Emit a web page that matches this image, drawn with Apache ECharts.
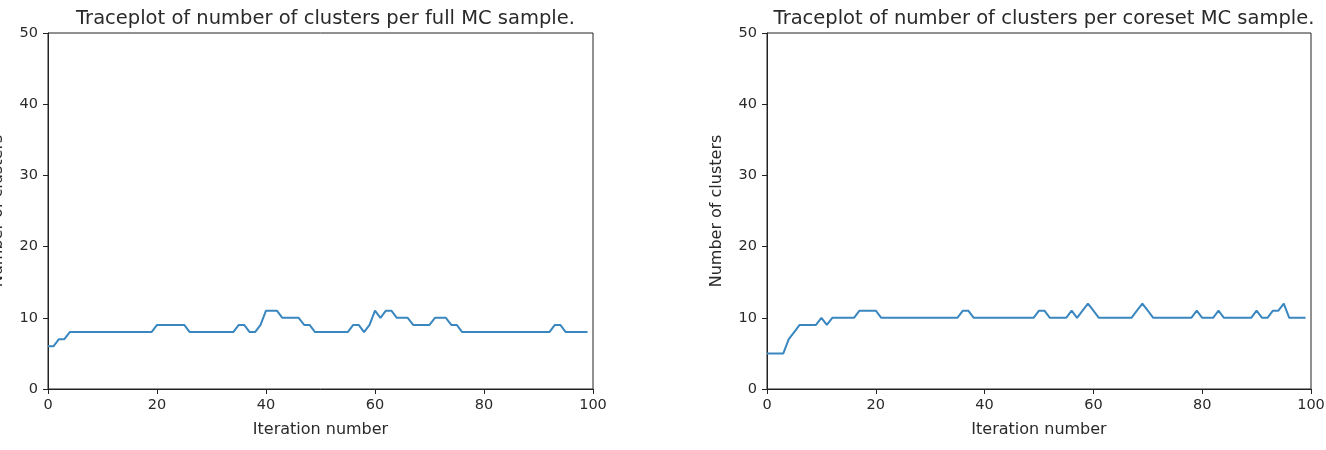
<!DOCTYPE html>
<html>
<head>
<meta charset="utf-8">
<script src="https://cdn.jsdelivr.net/npm/echarts@6/dist/echarts.min.js"></script>
<style>
html,body{margin:0;padding:0;background:#fff;}
#c{width:1326px;height:450px;}
</style>
</head>
<body>
<div id="c"></div>
<script>
const titles = ["Traceplot of number of clusters per full MC sample.", "Traceplot of number of clusters per coreset MC sample."];
const xName = "Iteration number";
const yName = "Number of clusters";
const xTicks = [0, 20, 40, 60, 80, 100];
const yTicks = [0, 10, 20, 30, 40, 50];

const fullClusters = [
  6,6,7,7,8,8,8,8,8,8, 8,8,8,8,8,8,8,8,8,8,
  9,9,9,9,9,9,8,8,8,8, 8,8,8,8,8,9,9,8,8,9,
  11,11,11,10,10,10,10,9,9,8, 8,8,8,8,8,8,9,9,8,9,
  11,10,11,11,10,10,10,9,9,9, 9,10,10,10,9,9,8,8,8,8,
  8,8,8,8,8,8,8,8,8,8, 8,8,8,9,9,8,8,8,8,8
];
const coresetClusters = [
  5,5,5,5,7,8,9,9,9,9, 10,9,10,10,10,10,10,11,11,11,
  11,10,10,10,10,10,10,10,10,10, 10,10,10,10,10,10,11,11,10,10,
  10,10,10,10,10,10,10,10,10,10, 11,11,10,10,10,10,11,10,11,12,
  11,10,10,10,10,10,10,10,11,12, 11,10,10,10,10,10,10,10,10,11,
  10,10,10,11,10,10,10,10,10,10, 11,10,10,11,11,12,10,10,10,10
];

const seriesData = [fullClusters, coresetClusters];
const grids = [
  {left: 48, width: 545, top: 33, height: 356},
  {left: 767, width: 544, top: 33, height: 356}
];
const textColor = '#2a2a2a';
const axisColor = '#222';
const font = 'DejaVu Sans';

const option = {
  animation: false,
  title: titles.map((t, i) => ({
    text: t,
    left: grids[i].left + grids[i].width / 2,
    textAlign: 'center',
    top: 4,
    textStyle: {fontFamily: font, fontSize: 19.5, fontWeight: 'normal', color: textColor}
  })),
  grid: grids.map(g => Object.assign({show: true, borderColor: axisColor, borderWidth: 1, backgroundColor: 'transparent', outerBoundsMode: 'none', containLabel: false}, g)),
  xAxis: grids.map((g, i) => ({
    type: 'value', gridIndex: i, min: xTicks[0], max: xTicks[xTicks.length - 1], interval: 20,
    name: xName, nameLocation: 'middle', nameGap: 33,
    nameTextStyle: {fontFamily: font, fontSize: 16, color: textColor},
    axisLine: {show: true, onZero: false, lineStyle: {color: axisColor, width: 1}},
    axisTick: {show: true, length: 5, lineStyle: {color: axisColor}},
    axisLabel: {fontFamily: font, fontSize: 14.5, color: textColor, margin: 9},
    splitLine: {show: false}
  })),
  yAxis: grids.map((g, i) => ({
    type: 'value', gridIndex: i, min: yTicks[0], max: yTicks[yTicks.length - 1], interval: 10,
    name: yName, nameLocation: 'middle', nameGap: 42,
    nameTextStyle: {fontFamily: font, fontSize: 16, color: textColor},
    axisLine: {show: true, onZero: false, lineStyle: {color: axisColor, width: 1}},
    axisTick: {show: true, length: 5, lineStyle: {color: axisColor}},
    axisLabel: {fontFamily: font, fontSize: 14.5, color: textColor, margin: 10},
    splitLine: {show: false}
  })),
  series: seriesData.map((arr, i) => ({
    type: 'line', xAxisIndex: i, yAxisIndex: i,
    data: arr.map((v, k) => [k, v]),
    showSymbol: false, symbol: 'none',
    lineStyle: {color: '#3a87c0', width: 2},
    itemStyle: {color: '#3a87c0'}
  }))
};

const chart = echarts.init(document.getElementById('c'), null, {renderer: 'canvas'});
chart.setOption(option);
</script>
</body>
</html>
